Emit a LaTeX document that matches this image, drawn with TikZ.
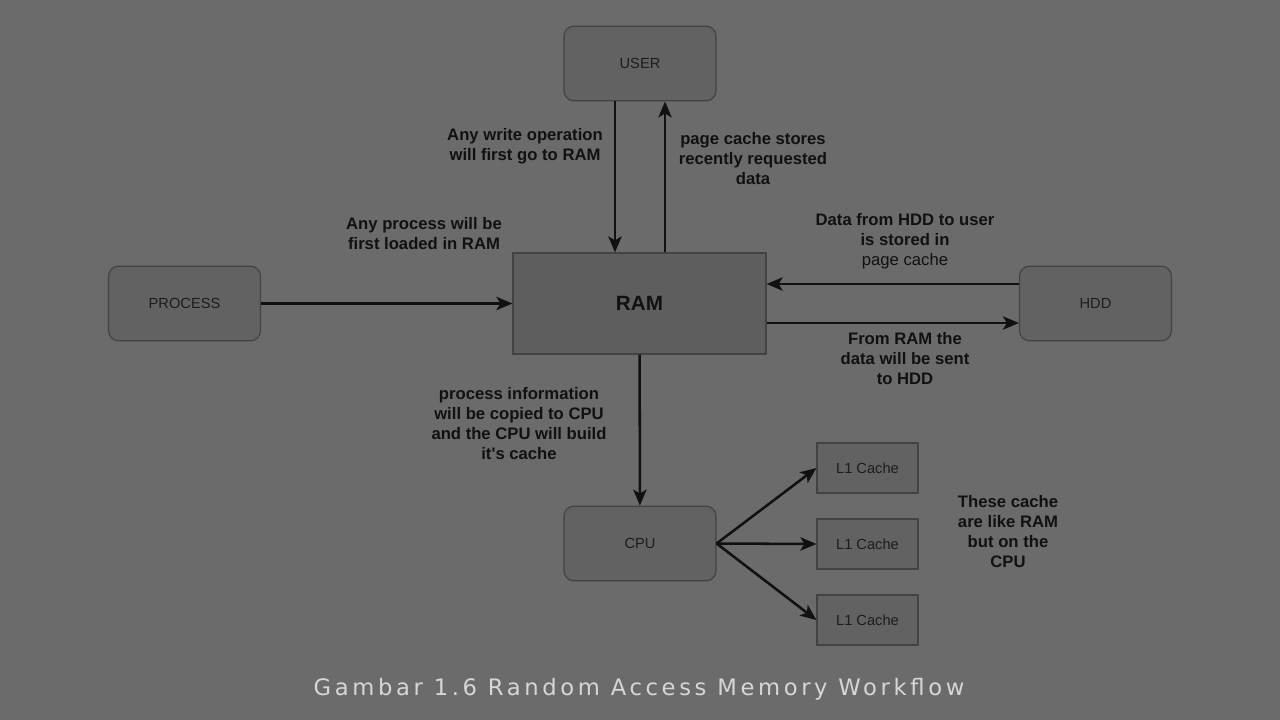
\documentclass[tikz,border=0pt]{standalone}
\usepackage{fontspec}
\setmainfont{Liberation Sans}
\newfontfamily\capfont[LetterSpace=16]{DejaVu Sans}
\usetikzlibrary{arrows.meta}

\definecolor{bggray}{HTML}{6B6B6B}
\definecolor{boxgray}{HTML}{626262}
\definecolor{ramgray}{HTML}{5E5E5E}
\definecolor{edgegray}{HTML}{434343}
\definecolor{ink}{HTML}{111111}
\definecolor{captext}{HTML}{D6D6D6}

\tikzset{
  roundbox/.style={draw=edgegray, fill=boxgray, line width=0.9pt, rounded corners=7.5pt,
    minimum width=114pt, minimum height=56pt, text=ink!95!white,
    font=\fontsize{11}{13}\selectfont},
  rambox/.style={draw=edgegray, fill=ramgray, line width=0.9pt,
    minimum width=189.75pt, minimum height=75.75pt, text=ink,
    font=\bfseries\fontsize{15.5}{18}\selectfont},
  cachebox/.style={draw=edgegray, fill=boxgray, line width=0.9pt,
    minimum width=75.75pt, minimum height=37.5pt, text=ink!95!white,
    font=\fontsize{11}{13}\selectfont},
  note/.style={align=center, text=ink, font=\bfseries\fontsize{12.5}{15}\selectfont},
  arr/.style={draw=ink, line width=1.9pt, -{Stealth[length=12pt,width=10pt,inset=3pt]}}
}

\begin{document}
\begin{tikzpicture}[x=0.75pt,y=-0.75pt]
            \fill[bggray] (0,0) rectangle (1280,720);
            \useasboundingbox (0,0) rectangle (1280,720);

            \node[roundbox] (user) at (640,63.5) {USER};
            \node[roundbox] (proc) at (184.5,303.5) {PROCESS};
            \node[rambox] (ram) at (639.5,303.5) {RAM};
            \node[roundbox] (hdd) at (1095.5,303.5) {HDD};
            \node[roundbox] (cpu) at (640,543.5) {CPU};

            \node[cachebox] (cacheA) at (867.5,468) {L1 Cache};
            \node[cachebox] (cacheB) at (867.5,544) {L1 Cache};
            \node[cachebox] (cacheC) at (867.5,620) {L1 Cache};

            \coordinate (wx) at (615,0);
            \coordinate (rx) at (665,0);
            \coordinate (inY) at (0,284);
            \coordinate (outY) at (0,323);

            \draw[arr] (user.south -| wx) -- (ram.north -| wx);
            \draw[arr] (ram.north -| rx) -- (user.south -| rx);
            \draw[arr] (proc) -- (ram);
            \draw[arr] (hdd.west |- inY) -- (ram.east |- inY);
            \draw[arr] (ram.east |- outY) -- (hdd.west |- outY);
            \draw[arr] (ram) -- (cpu);

            \draw[arr] (cpu.east) -- (cacheA.west);
            \draw[arr] (cpu.east) -- (cacheB.west);
            \draw[arr] (cpu.east) -- (cacheC.west);

            % notes along the arrows
            \node[note] (writeNote) at (525,146) {Any write operation\\will first go to RAM};
            \node[note] (pageNote) at (753,159) {page cache stores\\recently requested\\data};
            \node[note] (procNote) at (424,234) {Any process will be\\first loaded in RAM};
            \node[note] (hddNote) at (905,241) {Data from HDD to user\\is stored in\\{\mdseries page cache}};
            \node[note] (sendNote) at (905,359) {From RAM the\\data will be sent\\to HDD};
            \node[note] (cpuNote) at (519,424) {process information\\will be copied to CPU\\and the CPU will build\\it\textquotesingle s cache};
            \node[note] (cacheNote) at (1008,532) {These cache\\are like RAM\\but on the\\CPU};

            \node[text=captext, font=\capfont\fontsize{17}{20}\selectfont] (caption) at (639,689) {Gambar 1.6 Random Access Memory Workflow};
\end{tikzpicture}
\end{document}
